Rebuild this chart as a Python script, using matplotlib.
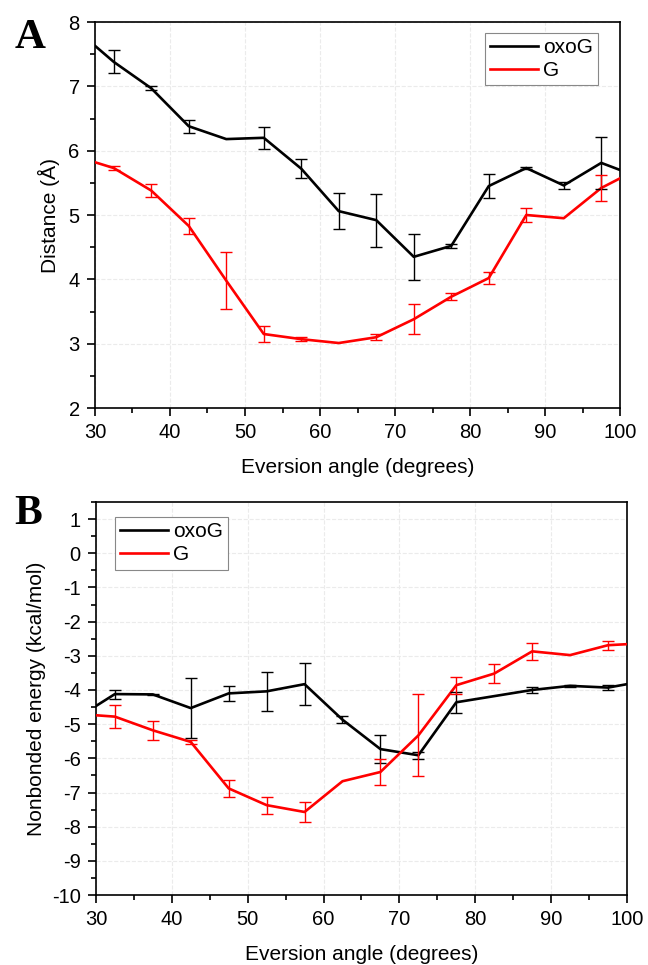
import numpy as np
import matplotlib.pyplot as plt
from matplotlib.ticker import MultipleLocator

plt.rcParams['font.family'] = ['Liberation Sans', 'DejaVu Sans']
plt.rcParams['axes.unicode_minus'] = False

# eversion angle bins (degrees); end values sit on the axis limits
angle = [30, 32.5, 37.5, 42.5, 47.5, 52.5, 57.5, 62.5, 67.5, 72.5,
         77.5, 82.5, 87.5, 92.5, 97.5, 100]

# panel A: distance (A)
dist_oxoG = [7.63, 7.38, 6.97, 6.38, 6.18, 6.20, 5.72, 5.06, 4.92, 4.35,
             4.52, 5.45, 5.73, 5.46, 5.81, 5.70]
dist_oxoG_err = [0, 0.18, 0.03, 0.10, 0, 0.17, 0.15, 0.28, 0.41, 0.36,
                 0.03, 0.18, 0.02, 0.05, 0.41, 0]
dist_G = [5.82, 5.73, 5.38, 4.83, 3.98, 3.15, 3.07, 3.01, 3.10, 3.38,
          3.73, 4.02, 5.00, 4.95, 5.42, 5.57]
dist_G_err = [0, 0.03, 0.10, 0.12, 0.44, 0.12, 0.03, 0, 0.05, 0.23,
              0.05, 0.10, 0.11, 0, 0.20, 0]

# panel B: nonbonded energy (kcal/mol)
ener_oxoG = [-4.47, -4.12, -4.13, -4.53, -4.10, -4.04, -3.83, -4.87, -5.73, -5.91,
             -4.36, -4.18, -4.00, -3.88, -3.93, -3.83]
ener_oxoG_err = [0, 0.13, 0.02, 0.88, 0.22, 0.57, 0.62, 0.10, 0.41, 0.10,
                 0.30, 0, 0.08, 0.03, 0.08, 0]
ener_G = [-4.74, -4.78, -5.18, -5.52, -6.88, -7.37, -7.57, -6.67, -6.40, -5.33,
          -3.86, -3.52, -2.87, -2.98, -2.69, -2.66]
ener_G_err = [0, 0.33, 0.28, 0.05, 0.25, 0.25, 0.28, 0, 0.37, 1.20,
              0.25, 0.27, 0.25, 0, 0.13, 0]

FS = 15


def draw(ax, y1, e1, y2, e2):
    x = np.array(angle)
    ax.plot(x, y1, color='black', lw=1.9, label='oxoG', zorder=3)
    ax.plot(x, y2, color='#ff0000', lw=1.9, label='G', zorder=3)
    m1 = np.array(e1) > 0
    m2 = np.array(e2) > 0
    ax.errorbar(x[m1], np.array(y1)[m1], yerr=np.array(e1)[m1], fmt='none',
                ecolor='black', elinewidth=1.0, capsize=4, capthick=1.0, zorder=4)
    ax.errorbar(x[m2], np.array(y2)[m2], yerr=np.array(e2)[m2], fmt='none',
                ecolor='#ff0000', elinewidth=1.0, capsize=4, capthick=1.0, zorder=4)
    ax.set_xlim(30, 100)
    ax.xaxis.set_major_locator(MultipleLocator(10))
    ax.xaxis.set_minor_locator(MultipleLocator(5))
    ax.tick_params(which='both', direction='out', top=False, right=False,
                   labelsize=14.5, width=1.2)
    ax.tick_params(which='major', length=6, pad=5)
    ax.tick_params(which='minor', length=3.5)
    for s in ax.spines.values():
        s.set_linewidth(1.2)
    ax.grid(True, which='major', color='#ebebeb', lw=0.8, ls='--', zorder=0)
    ax.set_xlabel('Eversion angle (degrees)', fontsize=FS, labelpad=11)


def add_legend(ax, loc, anchor):
    leg = ax.legend(loc=loc, bbox_to_anchor=anchor, fontsize=FS,
                    fancybox=False, framealpha=1, edgecolor='#888888',
                    handlelength=2.3, handletextpad=0.25, borderpad=0.25,
                    labelspacing=0.2, borderaxespad=0)
    leg.get_frame().set_linewidth(0.8)


fig = plt.figure(figsize=(6.48, 9.65), dpi=100)

axA = fig.add_axes([0.1466, 0.5772, 0.8102, 0.4])
draw(axA, dist_oxoG, dist_oxoG_err, dist_G, dist_G_err)
axA.set_ylim(2, 8)
axA.yaxis.set_major_locator(MultipleLocator(1))
axA.yaxis.set_minor_locator(MultipleLocator(0.5))
axA.set_ylabel('Distance (Å)', fontsize=FS, labelpad=6)
add_legend(axA, 'upper right', (0.958, 0.972))
fig.text(0.022, 0.9606, 'A', fontsize=31, fontweight='bold',
         family='Liberation Serif', ha='left', va='center')

axB = fig.add_axes([0.148, 0.0725, 0.8196, 0.4073])
draw(axB, ener_oxoG, ener_oxoG_err, ener_G, ener_G_err)
axB.set_ylim(-10, 1.5)
axB.yaxis.set_major_locator(MultipleLocator(1))
axB.yaxis.set_minor_locator(MultipleLocator(0.5))
axB.set_ylabel('Nonbonded energy (kcal/mol)', fontsize=FS, labelpad=4)
add_legend(axB, 'upper left', (0.036, 0.962))
fig.text(0.022, 0.467, 'B', fontsize=30, fontweight='bold',
         family='Liberation Serif', ha='left', va='center')

fig.savefig('out.png', dpi=100)
